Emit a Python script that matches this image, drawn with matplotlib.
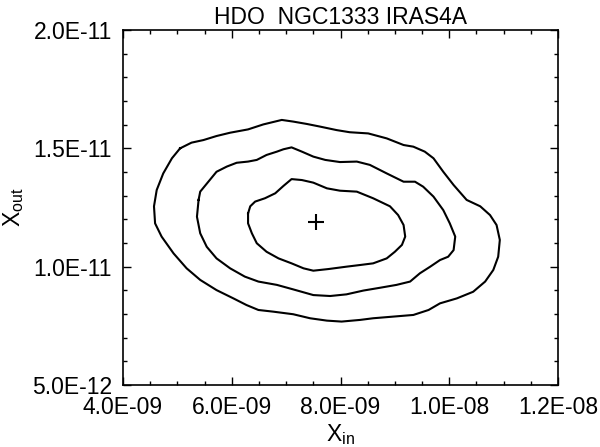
import matplotlib
matplotlib.use("Agg")
import matplotlib.pyplot as plt
from matplotlib.ticker import MultipleLocator

plt.rcParams["font.family"] = ["Liberation Sans", "DejaVu Sans"]
plt.rcParams["mathtext.fontset"] = "custom"
plt.rcParams["mathtext.rm"] = "Liberation Sans"
plt.rcParams["mathtext.it"] = "Liberation Sans"

# contour paths, x in units of 1e-9, y in units of 1e-12
outer_x = [5.05, 5.26, 5.48, 5.72, 5.97, 6.30, 6.58, 6.92, 7.13, 7.38, 7.62, 7.93, 8.17, 8.51,
           8.85, 9.16, 9.34, 9.55, 9.71, 9.89, 10.08, 10.32, 10.57, 10.75, 10.87, 10.93, 10.90,
           10.81, 10.66, 10.44, 10.14, 9.83, 9.62, 9.34, 8.97, 8.60, 8.36, 8.02, 7.75, 7.44,
           7.13, 6.76, 6.49, 6.27, 6.03, 5.72, 5.42, 5.17, 4.93, 4.71, 4.59, 4.57, 4.62, 4.74, 4.90]
outer_y = [15.00, 15.24, 15.35, 15.52, 15.66, 15.80, 16.01, 16.20, 16.13, 16.03, 15.92, 15.77,
           15.68, 15.63, 15.42, 15.14, 15.07, 14.86, 14.58, 14.01, 13.45, 12.82, 12.55, 12.18,
           11.76, 11.13, 10.42, 9.86, 9.37, 8.94, 8.66, 8.45, 8.17, 7.96, 7.89, 7.82, 7.75, 7.68,
           7.72, 7.82, 7.99, 8.10, 8.17, 8.38, 8.66, 9.01, 9.44, 9.93, 10.56, 11.27, 11.83, 12.55,
           13.24, 13.94, 14.58]

middle_x = [5.39, 5.42, 5.57, 5.72, 5.91, 6.09, 6.30, 6.46, 6.64, 6.83, 6.95, 7.10, 7.29, 7.50,
            7.72, 7.99, 8.30, 8.54, 8.85, 9.16, 9.37, 9.52, 9.71, 9.89, 10.01, 10.11, 10.08, 9.98,
            9.83, 9.65, 9.46, 9.28, 9.03, 8.73, 8.42, 8.11, 7.81, 7.50, 7.13, 6.83, 6.49, 6.24,
            5.97, 5.72, 5.54, 5.42, 5.36]
middle_y = [12.82, 13.17, 13.59, 14.01, 14.23, 14.39, 14.44, 14.51, 14.72, 14.86, 14.96, 15.04,
            14.86, 14.65, 14.51, 14.42, 14.44, 14.30, 13.94, 13.59, 13.59, 13.38, 12.96, 12.39,
            11.83, 11.27, 10.70, 10.42, 10.28, 10.00, 9.72, 9.37, 9.23, 9.11, 8.99, 8.83, 8.76,
            8.80, 9.04, 9.23, 9.37, 9.58, 9.93, 10.35, 10.84, 11.41, 12.11]

inner_x = [6.30, 6.34, 6.43, 6.61, 6.80, 6.95, 7.10, 7.29, 7.50, 7.75, 7.99, 8.30, 8.60, 8.91,
           9.06, 9.16, 9.19, 9.13, 9.00, 8.85, 8.60, 8.36, 8.11, 7.78, 7.50, 7.32, 7.10, 6.86,
           6.64, 6.46, 6.37, 6.30]
inner_y = [12.25, 12.55, 12.75, 12.89, 13.10, 13.41, 13.70, 13.66, 13.55, 13.31, 13.21, 13.17,
           12.89, 12.55, 12.18, 11.76, 11.27, 10.92, 10.63, 10.35, 10.14, 10.07, 10.00, 9.90,
           9.83, 9.93, 10.14, 10.35, 10.63, 10.99, 11.41, 11.83]

best_x = 7.55e-9
best_y = 1.187e-11

x_ticks = [4.0e-9, 6.0e-9, 8.0e-9, 1.0e-8, 1.2e-8]
x_labels = ["4.0E-09", "6.0E-09", "8.0E-09", "1.0E-08", "1.2E-08"]
y_ticks = [5.0e-12, 1.0e-11, 1.5e-11, 2.0e-11]
y_labels = ["5.0E-12", "1.0E-11", "1.5E-11", "2.0E-11"]

fig = plt.figure(figsize=(6.0, 4.47), dpi=100)
ax = fig.add_axes([0.205, 0.1387, 0.725, 0.7942])

for xs, ys in [(outer_x, outer_y), (middle_x, middle_y), (inner_x, inner_y)]:
    px = [v * 1e-9 for v in xs] + [xs[0] * 1e-9]
    py = [v * 1e-12 for v in ys] + [ys[0] * 1e-12]
    ax.plot(px, py, color="black", lw=1.5)

ax.plot([best_x], [best_y], marker="+", color="black", markersize=11, mew=1.5, ls="none")

ax.set_xlim(4.0e-9, 1.2e-8)
ax.set_ylim(5.0e-12, 2.0e-11)
ax.set_xticks(x_ticks)
ax.set_xticklabels(x_labels)
ax.set_yticks(y_ticks)
ax.set_yticklabels(y_labels)
ax.xaxis.set_minor_locator(MultipleLocator(0.5e-9))
ax.yaxis.set_minor_locator(MultipleLocator(1.0e-12))
ax.tick_params(which="both", direction="in", top=True, right=True, width=1.0, labelsize=16.5, pad=8)
ax.tick_params(which="major", length=6)
ax.tick_params(which="minor", length=3)
for s in ax.spines.values():
    s.set_linewidth(1.2)

ax.set_title("HDO  NGC1333 IRAS4A", fontsize=16.5, pad=4)
ax.set_xlabel(r"X$_{\rm in}$", fontsize=16.5, labelpad=2)
ax.set_ylabel(r"X$_{\rm out}$", fontsize=16.5, labelpad=4)

fig.savefig("out.png", dpi=100)
